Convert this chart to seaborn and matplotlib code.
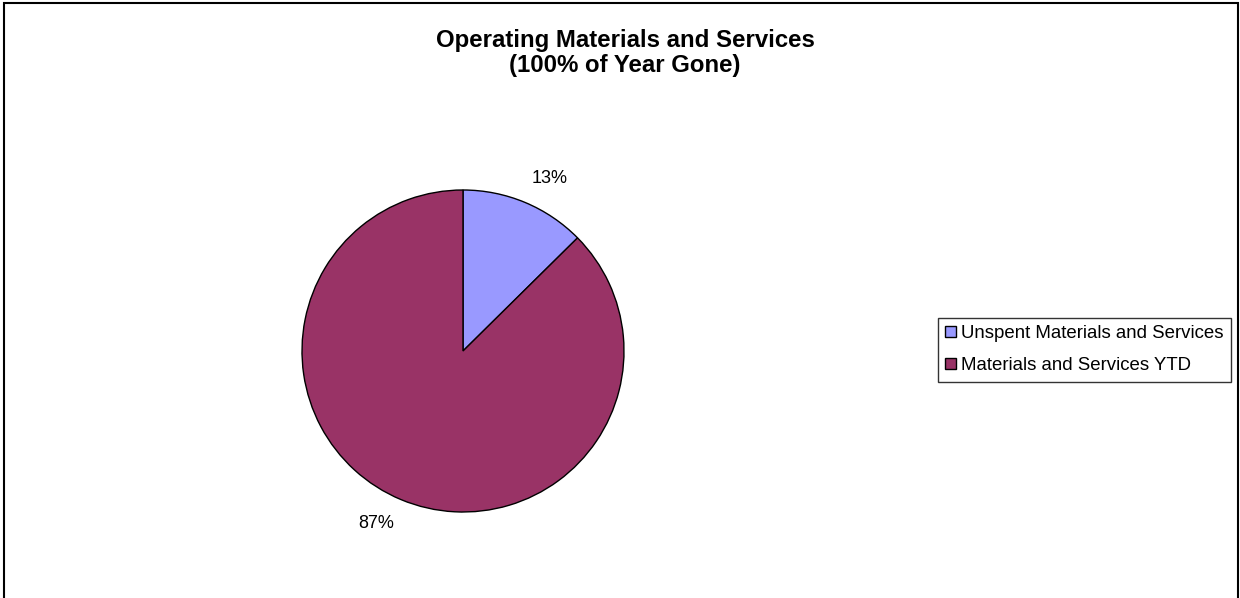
import matplotlib
matplotlib.use("Agg")
import numpy as np
import matplotlib.pyplot as plt
import seaborn as sns
from matplotlib.patches import Rectangle

categories = ["Unspent Materials and Services", "Materials and Services YTD"]
values = [12.6, 87.4]
colors = ["#9999FF", "#993366"]
title = "Operating Materials and Services\n(100% of Year Gone)"

sns.set_theme(style="white")
plt.rcParams['font.family'] = ['Liberation Sans', 'DejaVu Sans']
plt.rcParams['text.color'] = 'black'

fig = plt.figure(figsize=(12.4, 5.98), dpi=100)
W, H = 1240, 598
cx, cy, R = 463, 351, 161
ext = 1.25
aw = 2 * R * ext
ax = fig.add_axes([(cx - aw / 2) / W, (H - cy - aw / 2) / H, aw / W, aw / H])

wedges, texts, autotexts = ax.pie(
    values, colors=colors, startangle=90, counterclock=False,
    autopct='%.0f%%', pctdistance=1.17,
    wedgeprops=dict(edgecolor='black', linewidth=1.0),
    textprops=dict(fontsize=13, color='black'),
)
# shift labels slightly clockwise like the original renderer
for w, t in zip(wedges, autotexts):
    ang = np.deg2rad((w.theta1 + w.theta2) / 2 - 4)
    t.set_position((1.2 * np.cos(ang), 1.2 * np.sin(ang)))

ax.set_xlim(-ext, ext)
ax.set_ylim(-ext, ext)
ax.set_aspect('auto')
ax.axis('off')

fig.text(625 / W, 1 - 53 / H, title, ha='center', va='center', color='black',
         fontsize=17.3, fontweight='bold', linespacing=1.1)

leg = fig.legend(wedges, categories, loc='upper left',
                 bbox_to_anchor=(938 / W, 1 - 318 / H), borderaxespad=0,
                 fontsize=13.4, frameon=True, fancybox=False, shadow=False,
                 handlelength=0.55, handleheight=0.55, handletextpad=0.3,
                 labelspacing=0.8, borderpad=0.4)
leg.get_frame().set_edgecolor('black')
leg.get_frame().set_linewidth(1.0)
for t in leg.get_texts():
    t.set_color('black')

fig.patches.append(Rectangle((3.5 / W, -0.05), (1238 - 3.5) / W, 1 - 2.5 / H + 0.05,
                             transform=fig.transFigure, fill=False,
                             edgecolor='black', linewidth=1.5))

fig.savefig("out.png", dpi=100)
